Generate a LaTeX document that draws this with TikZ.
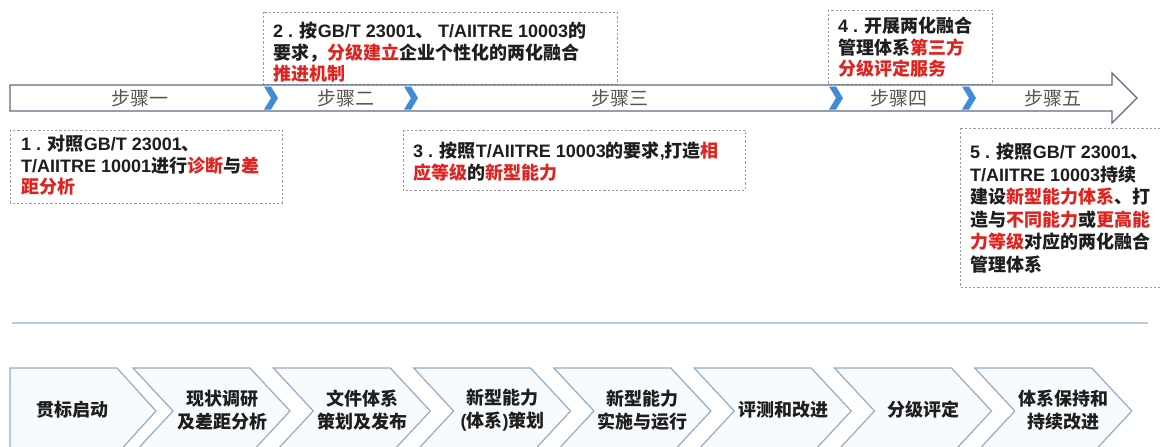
\documentclass[tikz,border=0pt]{standalone}
\usepackage{fontspec}
\setmainfont{Noto Sans CJK SC}
\newfontfamily\latfont{Liberation Sans}
\newcommand{\mylat}[1]{{\latfont #1}}
\definecolor{redtxt}{HTML}{E0231E}
\definecolor{txtblack}{HTML}{1E1E1E}
\definecolor{stepgray}{HTML}{555555}
\definecolor{arrowline}{HTML}{5B6B85}
\definecolor{chevblue}{HTML}{3F8CD8}
\definecolor{dashgray}{HTML}{9A9A9A}
\definecolor{botline}{HTML}{93ADC7}
\definecolor{botfill}{HTML}{F8FBFD}
\definecolor{sepline}{HTML}{BACADA}
\newcommand{\rd}[1]{\textcolor{redtxt}{#1}}
\tikzset{
  dashbox/.style={draw=dashgray, line width=0.8pt, dash pattern=on 2.2pt off 2pt, fill=white},
  boxtxt/.style={anchor=north west, inner sep=0pt, align=left, text=txtblack, font=\bfseries\fontsize{18}{21.5}\selectfont},
  steplbl/.style={inner sep=0pt, text=stepgray, font=\fontsize{19}{22}\selectfont},
  chevtop/.style={fill=chevblue, draw=none},
  botchev/.style={draw=botline, fill=botfill, line width=1.2pt, line join=miter},
  bottxt/.style={inner sep=0pt, align=center, text=txtblack, font=\bfseries\fontsize{18}{23}\selectfont}
}
\begin{document}
\begin{tikzpicture}[x=1pt,y=-1pt]
\useasboundingbox (0,0) rectangle (1162,447);
\clip (0,0) rectangle (1162,447);

% dashed boxes above the arrow
\draw[dashbox] (263,12) rectangle (617,84);
\draw[dashbox] (828,10) rectangle (992,84);

% main arrow
\draw[draw=arrowline, line width=1.3pt, fill=white, line join=miter]
  (10,85) -- (1112,85) -- (1112,73) -- (1137,98) -- (1112,123) -- (1112,111) -- (10,111) -- cycle;

% blue chevrons on the arrow
\foreach \cx in {264,404,829,962}{
  \fill[chevblue] (\cx,86.5) -- (\cx+7,86.5) -- (\cx+14,98) -- (\cx+7,109.5) -- (\cx,109.5) -- (\cx+7,98) -- cycle;
}

\node[steplbl] (s1) at (140,98) {步骤一};
\node[steplbl] (s2) at (346,98) {步骤二};
\node[steplbl] (s3) at (620,98) {步骤三};
\node[steplbl] (s4) at (899,98) {步骤四};
\node[steplbl] (s5) at (1053,98) {步骤五};

% dashed boxes below the arrow
\draw[dashbox] (10,130) rectangle (282,203);
\draw[dashbox] (403,130) rectangle (745,190);
\draw[dashbox] (960,128) rectangle (1170,287);

% texts
\node[boxtxt] (t2) at (273,22) {\mylat{2 . }按\mylat{GB/T 23001}、 \mylat{T/AIITRE 10003}的\\要求，\rd{分级建立}企业个性化的两化融合\\\rd{推进机制}};
\node[boxtxt] (t4) at (838,17) {\mylat{4 . }开展两化融合\\管理体系\rd{第三方}\\\rd{分级评定服务}};
\node[boxtxt] (t1) at (21,135) {\mylat{1 . }对照\mylat{GB/T 23001}、\\\mylat{T/AIITRE 10001}进行\rd{诊断}与\rd{差}\\\rd{距分析}};
\node[boxtxt] (t3) at (413,142) {\mylat{3 . }按照\mylat{T/AIITRE 10003}的要求\mylat{,}打造\rd{相}\\\rd{应等级}的\rd{新型能力}};
\node[boxtxt, font=\bfseries\fontsize{18}{22.5}\selectfont] (t5) at (970,143) {\mylat{5 . }按照\mylat{GB/T 23001}、\\\mylat{T/AIITRE 10003}持续\\建设\rd{新型能力体系}、打\\造与\rd{不同能力}或\rd{更高能}\\\rd{力等级}对应的两化融合\\管理体系};

% separator
\draw[sepline, line width=1.6pt] (12,323) -- (1148,323);

% bottom process chevrons
\draw[botchev] (10,368) -- (117,368) -- (156,411) -- (117,454) -- (10,454) -- cycle;
\foreach \k in {2,...,8}{
  \pgfmathsetmacro{\L}{133+140.3*(\k-2)}
  \draw[botchev] (\L,368) -- (\L+117,368) -- (\L+157,411) -- (\L+117,454) -- (\L,454) -- (\L+40,411) -- cycle;
}
\node[bottxt] (p1) at (72,410) {贯标启动};
\node[bottxt] (p2) at (222,410) {现状调研\\及差距分析};
\node[bottxt] (p3) at (362.3,410) {文件体系\\策划及发布};
\node[bottxt] (p4) at (502.6,410) {新型能力\\\mylat{(}体系\mylat{)}策划};
\node[bottxt] (p5) at (642.9,410) {新型能力\\实施与运行};
\node[bottxt] (p6) at (783.2,410) {评测和改进};
\node[bottxt] (p7) at (923.5,410) {分级评定};
\node[bottxt] (p8) at (1063.8,410) {体系保持和\\持续改进};
\end{tikzpicture}
\end{document}
